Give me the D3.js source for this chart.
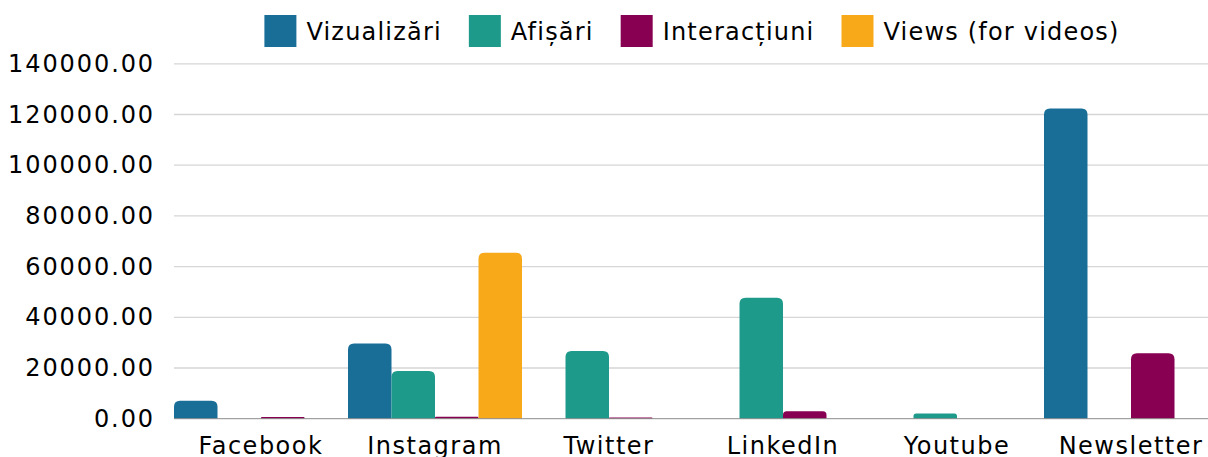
<!DOCTYPE html>
<html>
<head>
<meta charset="utf-8">
<script src="https://cdn.jsdelivr.net/npm/d3@7"></script>
<style>
  html, body { margin: 0; padding: 0; background: #fff; }
  svg { display: block; }
  text { font-family: "DejaVu Sans", sans-serif; fill: #000; }
</style>
</head>
<body>
<svg id="chart" width="1208" height="457"></svg>
<script>
// ---- data ----
const categories = ["Facebook", "Instagram", "Twitter", "LinkedIn", "Youtube", "Newsletter"];
const seriesNames = ["Vizualizări", "Afișări", "Interacțiuni", "Views (for videos)"];
const vizualizari = [7100, 29700, 0, 0, 0, 122400];
const afisari = [0, 18800, 26700, 47700, 2100, 0];
const interactiuni = [700, 800, 500, 2900, 0, 25800];
const viewsVideos = [0, 65500, 0, 0, 0, 0];
const yTicks = [0, 20000, 40000, 60000, 80000, 100000, 120000, 140000];
const colors = ["#196e98", "#1e9a8b", "#870052", "#f8a91a"];

const seriesValues = [vizualizari, afisari, interactiuni, viewsVideos];

const svg = d3.select("#chart");
const W = 1208, H = 457;
const left = 174, bandW = 174;
const yTop = 63.8, yBottom = 418.7;

const x0 = d3.scaleBand().domain(categories).range([left, left + bandW * categories.length]).padding(0);
const x1 = d3.scaleBand().domain(seriesNames).range([0, x0.bandwidth()]).padding(0);
const y = d3.scaleLinear().domain([0, 140000]).range([yBottom, yTop]);

// gridlines
svg.append("g").selectAll("line").data(yTicks.filter(d => d > 0)).join("line")
  .attr("x1", left).attr("x2", W)
  .attr("y1", d => y(d)).attr("y2", d => y(d))
  .attr("stroke", "#d6d6d6").attr("stroke-width", 1.3);

// y tick labels
svg.append("g").selectAll("text").data(yTicks).join("text")
  .attr("x", 155).attr("y", d => y(d))
  .attr("text-anchor", "end").attr("dominant-baseline", "central")
  .style("font-size", "24px").style("letter-spacing", "1.9px")
  .text(d => d3.format(".2f")(d));

// bars with rounded tops
function barPath(xp, w, yv) {
  const h = yBottom - yv;
  const r = Math.min(6, h / 2, w / 2);
  return `M${xp},${yBottom} V${yv + r} Q${xp},${yv} ${xp + r},${yv} H${xp + w - r} Q${xp + w},${yv} ${xp + w},${yv + r} V${yBottom} Z`;
}
const bars = [];
categories.forEach((c, i) => {
  seriesNames.forEach((s, j) => {
    const v = seriesValues[j][i];
    if (v > 0) bars.push({ c, s, v, j });
  });
});
svg.append("g").selectAll("path").data(bars).join("path")
  .attr("d", d => barPath(x0(d.c) + x1(d.s), x1.bandwidth(), y(d.v)))
  .attr("fill", d => colors[d.j]);

// baseline
svg.append("line").attr("x1", left).attr("x2", W)
  .attr("y1", yBottom).attr("y2", yBottom)
  .attr("stroke", "#8c8c8c").attr("stroke-width", 1);

// x labels
svg.append("g").selectAll("text").data(categories).join("text")
  .attr("x", d => x0(d) + x0.bandwidth() / 2).attr("y", 454)
  .attr("text-anchor", "middle")
  .style("font-size", "24px").style("letter-spacing", "1.5px")
  .text(d => d);

// legend
const lg = svg.append("g");
const items = lg.selectAll("g").data(seriesNames).join("g");
items.append("rect").attr("width", 32).attr("height", 32).attr("y", 15)
  .attr("fill", (d, i) => colors[i]);
items.append("text").attr("x", 42).attr("y", 39.5)
  .style("font-size", "24px").style("letter-spacing", "1.2px")
  .text(d => d);
let pos = 0;
const offsets = [];
items.each(function () {
  const tw = d3.select(this).select("text").node().getComputedTextLength();
  offsets.push(pos);
  pos += 42 + tw + 27;
});
const total = pos - 27;
const startX = 692 - total / 2;
items.attr("transform", (d, i) => `translate(${startX + offsets[i]},0)`);
</script>
</body>
</html>
